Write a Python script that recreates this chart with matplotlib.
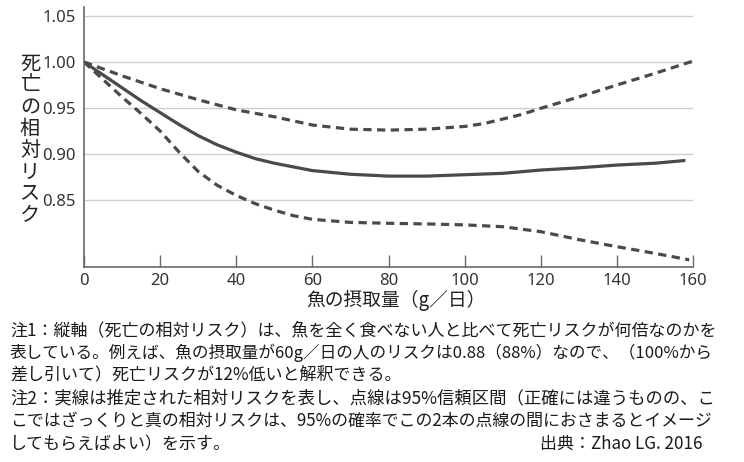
import matplotlib
matplotlib.use("Agg")
import matplotlib.pyplot as plt

plt.rcParams['font.family'] = ['Noto Sans CJK JP', 'DejaVu Sans']

# data
x_est = [0, 5, 10, 15, 20, 25, 30, 35, 40, 45, 50, 55, 60, 70, 80, 90, 100, 110, 120, 130, 140, 150, 158]
rr_est = [1.000, 0.986, 0.972, 0.958, 0.945, 0.932, 0.920, 0.910, 0.902, 0.895, 0.890, 0.886, 0.882,
          0.878, 0.876, 0.876, 0.8775, 0.879, 0.8826, 0.885, 0.888, 0.890, 0.893]

x_upper = [0, 10, 20, 30, 40, 50, 60, 70, 80, 90, 100, 105, 110, 115, 120, 130, 140, 150, 160]
rr_upper = [1.000, 0.985, 0.971, 0.959, 0.948, 0.9405, 0.9315, 0.927, 0.926, 0.927, 0.930, 0.933,
            0.938, 0.943, 0.9497, 0.962, 0.975, 0.9877, 1.001]

x_lower = [0, 5, 10, 15, 20, 25, 30, 35, 40, 45, 50, 55, 60, 70, 80, 90, 100, 110, 120, 130, 140, 150, 159]
rr_lower = [1.000, 0.981, 0.962, 0.944, 0.925, 0.902, 0.881, 0.866, 0.855, 0.846, 0.839, 0.833, 0.829,
            0.8257, 0.8247, 0.824, 0.823, 0.821, 0.8156, 0.807, 0.7993, 0.792, 0.785]

x_ticks = [0, 20, 40, 60, 80, 100, 120, 140, 160]
y_ticks = [0.85, 0.90, 0.95, 1.00, 1.05]

y_label = "死亡の相対リスク"
x_label = "魚の摂取量（g／日）"
notes = [
    "注1：縦軸（死亡の相対リスク）は、魚を全く食べない人と比べて死亡リスクが何倍なのかを",
    "表している。例えば、魚の摂取量が60g／日の人のリスクは0.88（88%）なので、（100%から",
    "差し引いて）死亡リスクが12%低いと解釈できる。",
    "注2：実線は推定された相対リスクを表し、点線は95%信頼区間（正確には違うものの、こ",
    "こではざっくりと真の相対リスクは、95%の確率でこの2本の点線の間におさまるとイメージ",
    "してもらえばよい）を示す。",
]
note_full = [True, True, False, True, True, False]
source = "出典：Zhao LG. 2016"

W, H = 744, 462
fig = plt.figure(figsize=(W / 100, H / 100), dpi=100)
ax = fig.add_axes([84 / W, (H - 267) / H, (693 - 84) / W, (267 - 7) / H])

line_col = "#4a4a4a"
ax.plot(x_est, rr_est, color=line_col, lw=2.3, solid_capstyle='butt')
ax.plot(x_upper, rr_upper, color=line_col, lw=2.3, linestyle=(0, (2.6, 1.7)))
ax.plot(x_lower, rr_lower, color=line_col, lw=2.3, linestyle=(0, (2.6, 1.7)))

ax.set_xlim(0, 160)
ax.set_ylim(0.7772, 1.0598)
ax.set_xticks(x_ticks)
ax.set_yticks(y_ticks)
ax.set_yticklabels([f"{v:.2f}" for v in y_ticks])
ax.grid(axis='y', color="#cfcfcf", lw=1.0)
ax.set_axisbelow(True)
for s in ['top', 'right']:
    ax.spines[s].set_visible(False)
for s in ['left', 'bottom']:
    ax.spines[s].set_color("#6a6a6a")
    ax.spines[s].set_linewidth(1.2)
ax.tick_params(axis='x', direction='in', length=9, width=1.0, color="#6a6a6a",
               labelsize=12, labelcolor="#333333", pad=4)
ax.tick_params(axis='y', length=0, labelsize=12, labelcolor="#333333", pad=6)
for lab in ax.get_xticklabels() + ax.get_yticklabels():
    lab.set_fontfamily(['Noto Sans', 'DejaVu Sans'])

fig.text(30 / W, 1 - 140 / H, "\n".join(y_label), ha='center', va='center',
         fontsize=14.5, linespacing=1.04, color="#222222")
fig.text(396 / W, 1 - 290 / H, x_label, ha='center', va='top',
         fontsize=13.5, color="#222222")

# notes: fit full lines to the same right edge
renderer = fig.canvas.get_renderer()
target = 703.0
base = 12.0
y0 = 330
texts = []
sizes = []
for i, line in enumerate(notes):
    t = fig.text(10 / W, 1 - (y0 + i * 22.8) / H, line, ha='left', va='center',
                 fontsize=base, color="#1a1a1a")
    texts.append(t)
for t, full in zip(texts, note_full):
    if full:
        w = t.get_window_extent(renderer).width
        t.set_fontsize(base * target / w)
        sizes.append(base * target / w)
avg = sum(sizes) / len(sizes)
for t, full in zip(texts, note_full):
    if not full:
        t.set_fontsize(avg)
fig.text(703 / W, 1 - (y0 + 5 * 22.8) / H, source, ha='right', va='center',
         fontsize=avg, color="#1a1a1a")

fig.savefig("out.png", dpi=100)
